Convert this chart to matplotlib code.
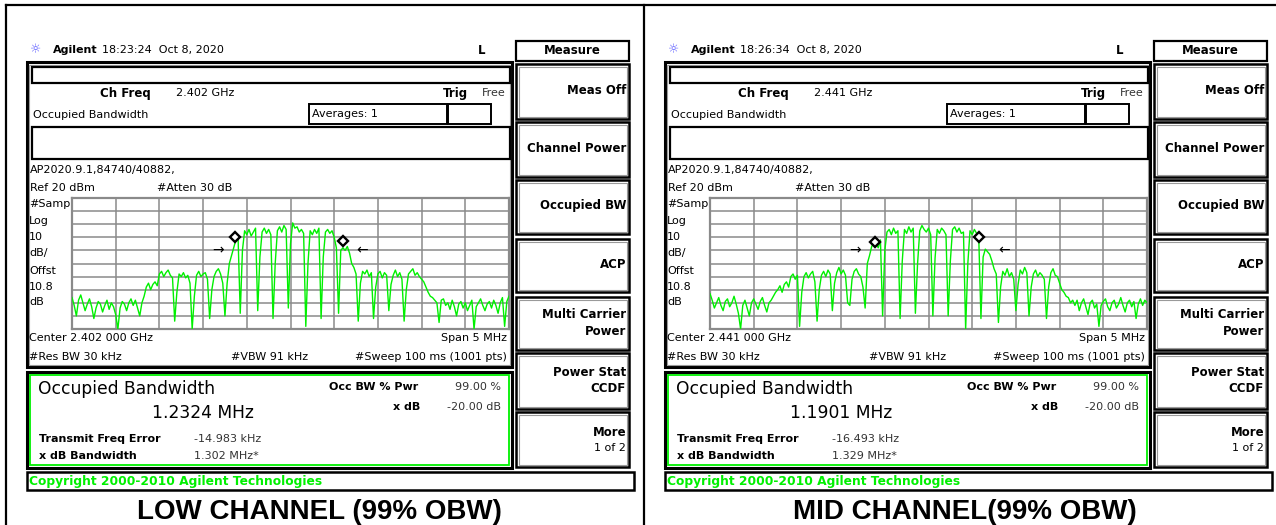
import numpy as np
import matplotlib.pyplot as plt
from matplotlib.patches import Rectangle

W, H = 1276, 525

# ---- values ----
captions = ['LOW CHANNEL (99% OBW)', 'MID CHANNEL(99% OBW)']
caption_x = [319, 965]
timestamps = ['18:23:24  Oct 8, 2020', '18:26:34  Oct 8, 2020']
ch_freqs = ['2.402 GHz', '2.441 GHz']
center_labels = ['Center 2.402 000 GHz', 'Center 2.441 000 GHz']
obw_values = ['1.2324 MHz', '1.1901 MHz']
freq_errors = ['-14.983 kHz', '-16.493 kHz']
xdb_bandwidths = ['1.302 MHz*', '1.329 MHz*']

# OBW edge markers: offset from centre (MHz) and level (dBm)
low_marker_f = [-0.631, 0.601]
low_marker_db = [-9.8, -12.8]
mid_marker_f = [-0.612, 0.579]
mid_marker_db = [-13.6, -9.8]
# x dB arrows: tip offset (MHz), level = x dB setting
low_arrow_f = [-0.76, 0.75]
mid_arrow_f = [-0.77, 0.80]
arrow_db = -20

softkeys = ['Meas Off', 'Channel Power', 'Occupied BW', 'ACP',
            'Multi Carrier\nPower', 'Power Stat\nCCDF', 'More']

# trace levels in dBm, 201 points over the 5 MHz span
low_trace = [
    -56, -62, -70, -58, -54, -60, -66, -61, -57, -63,
    -72, -64, -59, -61, -67, -62, -58, -65, -60, -63,
    -69, -80, -64, -59, -61, -66, -60, -57, -62, -58,
    -64, -70, -60, -55,
    -48, -45, -50, -46, -44, -47,
    -38, -36, -40, -37, -35, -39, -41,
    -74, -52,
    -38, -40, -37, -41, -39, -45,
    -80, -55,
    -39, -36, -40, -38, -37, -42,
    -72, -50,
    -40, -36, -34, -38, -45,
    -70, -45,
    -30, -24, -18, -12, -10,
    -68, -20,
    -5, -8, -4, -9, -6, -3,
    -66, -25,
    -6, -3, -7, -4, -8,
    -72, -30,
    -5, -2, -6, -1, -4,
    -64, -15,
    1, -3, -2, -6, -4, -7,
    -78, -30,
    -5, -8, -4, -7, -3,
    -72, -25,
    -6, -4, -7, -5,
    -10, -18, -68, -20,
    -18, -20, -17, -22,
    -30, -33, -38,
    -74, -45,
    -36, -38, -35, -40, -37,
    -72, -48,
    -38, -36, -41, -37, -39,
    -66, -46,
    -39, -35, -40, -37, -42,
    -74, -50,
    -38, -36, -34, -39, -37, -40,
    -42, -44, -48, -52, -55, -56, -58, -60,
    -75, -58,
    -57, -62, -60, -65, -58, -63, -70, -61, -59, -64,
    -60, -66, -62, -58, -80, -63, -60, -57, -62, -66,
    -61, -59, -64, -58, -62, -68, -60, -56, -78, -59,
    -55,
]

mid_trace = [
    -53, -58, -64, -60, -56, -62, -66, -59, -57, -63,
    -60, -55, -61, -68, -80, -62, -58, -64, -70, -60,
    -57, -61, -65, -59, -56, -62, -67, -60, -58, -55,
    -52,
    -50, -47, -52, -46, -44, -48,
    -40, -38, -42, -39,
    -78, -52,
    -40, -37, -41, -38, -36,
    -44, -74, -50,
    -39, -36, -40, -35, -38,
    -66, -45,
    -37, -33, -38, -35, -39,
    -60, -62, -42,
    -36, -34, -38, -40,
    -48, -64,
    -30, -24, -17, -14, -15, -18,
    -12, -70, -20,
    -6, -4, -8, -3, -7, -5,
    -72, -28,
    -4, -7, -2, -6, -3,
    -68, -30,
    -5, -1, -4, -6, -3,
    -8, -70, -26,
    -4, -7, -3, -5, -8,
    -70, -28,
    -4, -2, -6, -3, -7,
    -6, -80, -30,
    -5, -8, -4, -7,
    -10, -72, -25,
    -19, -21, -23, -28, -34,
    -38, -75, -48,
    -36, -39, -34, -40, -37,
    -42, -66, -46,
    -35, -38, -33, -37,
    -70, -48,
    -38, -35, -40, -37, -39,
    -42, -72, -48,
    -37, -34, -39,
    -40, -45, -50, -52, -55, -56, -60, -58,
    -62, -58, -66, -60, -57, -63, -69, -60, -58, -64,
    -61, -78, -62, -59, -57, -63, -66, -60, -58, -64,
    -61, -56, -62, -67, -60, -58, -63, -59, -72, -61,
    -57, -62, -58, -60,
]

traces = [low_trace, mid_trace]
marker_f = [low_marker_f, mid_marker_f]
marker_db = [low_marker_db, mid_marker_db]
arrow_f = [low_arrow_f, mid_arrow_f]

GREEN = '#00f000'
GRID = '#8a8a8a'
FONT = 'DejaVu Sans'

fig = plt.figure(figsize=(W / 100, H / 100), dpi=100)
canvas = fig.add_axes([0, 0, 1, 1])
canvas.set_xlim(0, W)
canvas.set_ylim(H, 0)
canvas.axis('off')


def box(x0, y0, x1, y1, lw=1.6, color='black', inner=None):
    canvas.add_patch(Rectangle((x0, y0), x1 - x0, y1 - y0, fill=False,
                               lw=lw, edgecolor=color))
    if inner:
        canvas.add_patch(Rectangle((x0 + 2.5, y0 + 2.5), x1 - x0 - 5, y1 - y0 - 5,
                                   fill=False, lw=0.8, edgecolor=inner))


def txt(x, y, s, size=8, weight='normal', ha='left', color='black', **kw):
    canvas.text(x, y, s, fontsize=size, fontweight=weight, ha=ha, va='center',
                color=color, family=FONT, **kw)


def draw_panel(k, dx):
    # header line
    txt(36 + dx, 50, '\u263c', size=9, color='#5a5aff', ha='center')
    txt(53 + dx, 50, 'Agilent', size=8, weight='bold')
    txt(102 + dx, 50, timestamps[k], size=8)
    txt(478 + dx, 50, 'L', size=8.5, weight='bold')

    # softkey column
    box(516 + dx, 41, 629 + dx, 61)
    txt(572 + dx, 51, 'Measure', size=8.5, weight='bold', ha='center')
    key_rows = [(64, 119), (122, 177), (180, 234), (239, 292),
                (297, 350), (353, 409), (412, 467)]
    for label, (y0, y1) in zip(softkeys, key_rows):
        box(516 + dx, y0, 629 + dx, y1, lw=1.8, inner='#9a9a9a')
        if label == 'More':
            txt(626 + dx, 432, 'More', size=8.5, weight='bold', ha='right')
            txt(626 + dx, 448, '1 of 2', size=8, ha='right')
        elif '\n' in label:
            top, bot = label.split('\n')
            txt(626 + dx, (y0 + y1) / 2 - 9, top, size=8.5, weight='bold', ha='right')
            txt(626 + dx, (y0 + y1) / 2 + 8, bot, size=8.5, weight='bold', ha='right')
        else:
            txt(626 + dx, (y0 + y1) / 2 - 1, label, size=8.5, weight='bold', ha='right')

    # main screen
    box(26.5 + dx, 62, 512 + dx, 367, lw=2.2, inner='#9a9a9a')
    box(32 + dx, 67, 510 + dx, 83, lw=1.6)
    txt(100 + dx, 93, 'Ch Freq', size=8.5, weight='bold')
    txt(176 + dx, 93, ch_freqs[k], size=8)
    txt(443 + dx, 93, 'Trig', size=8.5, weight='bold')
    txt(506 + dx, 93, 'Free', size=8, ha='right', color='#333333')
    txt(33 + dx, 115, 'Occupied Bandwidth', size=8)
    box(309 + dx, 104, 447 + dx, 124, lw=1.4)
    box(448 + dx, 104, 491 + dx, 124, lw=1.4)
    txt(312 + dx, 114, 'Averages: 1', size=8)
    box(32 + dx, 127, 510 + dx, 159, lw=1.6)
    txt(30 + dx, 170, 'AP2020.9.1,84740/40882,', size=8)
    txt(30 + dx, 188, 'Ref 20 dBm', size=8)
    txt(157 + dx, 188, '#Atten 30 dB', size=8)
    for y, s in zip([204, 221, 237, 253, 271, 287, 302],
                    ['#Samp', 'Log', '10', 'dB/', 'Offst', '10.8', 'dB']):
        txt(29 + dx, y, s, size=8)
    txt(29 + dx, 338, center_labels[k], size=8)
    txt(507 + dx, 338, 'Span 5 MHz', size=8, ha='right')
    txt(29 + dx, 357, '#Res BW 30 kHz', size=8)
    txt(231 + dx, 357, '#VBW 91 kHz', size=8)
    txt(507 + dx, 357, '#Sweep 100 ms (1001 pts)', size=8, ha='right')

    # result box
    box(26.5 + dx, 372, 512 + dx, 468, lw=2.2)
    canvas.add_patch(Rectangle((30 + dx, 375), 478.5, 90, fill=False,
                               lw=1.3, edgecolor=GREEN))
    txt(38 + dx, 389, 'Occupied Bandwidth', size=12.3)
    txt(203 + dx, 413, obw_values[k], size=12.3, ha='center')
    txt(329 + dx, 387, 'Occ BW % Pwr', size=8, weight='bold')
    txt(501 + dx, 387, '99.00 %', size=8, ha='right', color='#333333')
    txt(420 + dx, 407, 'x dB', size=8, weight='bold', ha='right')
    txt(501 + dx, 407, '-20.00 dB', size=8, ha='right', color='#333333')
    txt(39 + dx, 439, 'Transmit Freq Error', size=8, weight='bold')
    txt(194 + dx, 439, freq_errors[k], size=8, color='#333333')
    txt(39 + dx, 456, 'x dB Bandwidth', size=8, weight='bold')
    txt(194 + dx, 456, xdb_bandwidths[k], size=8, color='#333333')

    # copyright bar
    box(26.5 + dx, 472, 634 + dx, 490, lw=1.8)
    txt(29 + dx, 481, 'Copyright 2000-2010 Agilent Technologies', size=8.8,
        weight='bold', color=GREEN)

    # caption
    canvas.text(caption_x[k], 512, captions[k], fontsize=20, fontweight='bold',
                ha='center', va='center', family='Liberation Sans')

    # spectrum graticule
    gx0, gx1, gy0, gy1 = 72 + dx, 509 + dx, 198, 329
    ax = fig.add_axes([gx0 / W, 1 - gy1 / H, (gx1 - gx0) / W, (gy1 - gy0) / H])
    freq = np.linspace(-2.5, 2.5, len(traces[k]))
    ax.plot(freq, traces[k], color=GREEN, lw=1.0, zorder=3)
    ax.plot(marker_f[k], marker_db[k], 'D', ms=5.5, mfc='white', mec='black',
            mew=1.7, zorder=4)
    ax.text(arrow_f[k][0], arrow_db, '\u2192', ha='right', va='center',
            fontsize=10, zorder=4)
    ax.text(arrow_f[k][1], arrow_db, '\u2190', ha='left', va='center',
            fontsize=10, zorder=4)
    ax.set_xlim(-2.5, 2.5)
    ax.set_ylim(-80, 20)
    ax.set_xticks(np.linspace(-2.5, 2.5, 11))
    ax.set_yticks(np.arange(-80, 21, 10))
    ax.grid(True, color=GRID, lw=1.1)
    ax.tick_params(length=0, labelbottom=False, labelleft=False)
    for sp in ax.spines.values():
        sp.set_color(GRID)
        sp.set_linewidth(1.6)


# outer table lines
canvas.plot([6, W], [5, 5], color='black', lw=1.6)
canvas.plot([6, 6], [5, H], color='black', lw=1.6)
canvas.plot([644, 644], [5, H], color='black', lw=1.6)

draw_panel(0, 0)
draw_panel(1, 638)

fig.savefig('out.png', dpi=100)
